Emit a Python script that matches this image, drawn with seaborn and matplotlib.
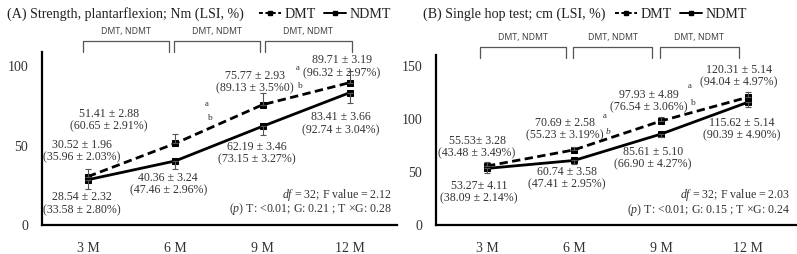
import matplotlib
matplotlib.use("Agg")
import matplotlib.pyplot as plt
from matplotlib.lines import Line2D
import matplotlib.transforms as mtransforms
import seaborn as sns
import pandas as pd
import numpy as np

# ---------------- data ----------------
timepoints = ["3 M", "6 M", "9 M", "12 M"]

a_dmt = [30.52, 51.41, 75.77, 89.71]
a_ndmt = [28.54, 40.36, 62.19, 83.41]
a_dmt_err = [5.0, 5.7, 7.5, 7.5]
a_ndmt_err = [6.0, 5.0, 5.7, 6.3]
a_dmt_labels = ["30.52 ± 1.96\n(35.96 ± 2.03%)", "51.41 ± 2.88\n(60.65 ± 2.91%)",
                "75.77 ± 2.93\n(89.13 ± 3.5%0)", "89.71 ± 3.19\n(96.32 ± 2.97%)"]
a_ndmt_labels = ["28.54 ± 2.32\n(33.58 ± 2.80%)", "40.36 ± 3.24\n(47.46 ± 2.96%)",
                 "62.19 ± 3.46\n(73.15 ± 3.27%)", "83.41 ± 3.66\n(92.74 ± 3.04%)"]
a_title = "(A) Strength, plantarflexion; Nm (LSI, %)"
a_stats = ["32", "2.12", "<0.01", "0.21", "0.28"]
a_yticks = [0, 50, 100]

b_dmt = [55.53, 70.69, 97.93, 120.31]
b_ndmt = [53.27, 60.74, 85.61, 115.62]
b_dmt_err = [3.3, 2.6, 4.0, 5.0]
b_ndmt_err = [4.0, 3.0, 3.0, 5.0]
b_dmt_labels = ["55.53± 3.28\n(43.48 ± 3.49%)", "70.69 ± 2.58\n(55.23 ± 3.19%)",
                "97.93 ± 4.89\n(76.54 ± 3.06%)", "120.31 ± 5.14\n(94.04 ± 4.97%)"]
b_ndmt_labels = ["53.27± 4.11\n(38.09 ± 2.14%)", "60.74 ± 3.58\n(47.41 ± 2.95%)",
                 "85.61 ± 5.10\n(66.90 ± 4.27%)", "115.62 ± 5.14\n(90.39 ± 4.90%)"]
b_title = "(B) Single hop test; cm (LSI, %)"
b_stats = ["32", "2.03", "<0.01", "0.15", "0.24"]
b_yticks = [0, 50, 100, 150]

groups = ["DMT", "NDMT"]
bracket_label = "DMT, NDMT"

# ---------------- style ----------------
sns.set_theme(style="white")
SERIF = ["Liberation Serif", "DejaVu Serif"]
plt.rcParams["font.family"] = SERIF
plt.rcParams["mathtext.fontset"] = "custom"
plt.rcParams["mathtext.it"] = "Liberation Serif:italic"
plt.rcParams["mathtext.rm"] = "Liberation Serif"

W, H = 797, 254
fig = plt.figure(figsize=(W / 100, H / 100), dpi=100)
TXT = "#333333"


def px_axes(x0, x1, ytop, ybot):
    return fig.add_axes([x0 / W, 1 - ybot / H, (x1 - x0) / W, (ybot - ytop) / H])


def draw_panel(ax, dmt, ndmt, dmt_err, ndmt_err, dmt_labels, ndmt_labels,
               ylim, xlim, yticks, lab_off_d, lab_off_n, sup_offs, bracket_y,
               brackets, stats):
    df = pd.DataFrame({
        "time": timepoints * 2,
        "value": list(dmt) + list(ndmt),
        "group": [groups[0]] * 4 + [groups[1]] * 4,
    })
    sns.lineplot(data=df, x="time", y="value", style="group",
                 dashes={"DMT": (3, 1.6), "NDMT": ""},
                 markers={"DMT": "s", "NDMT": "s"}, markersize=5,
                 color="black", linewidth=2.0, ax=ax, legend=False,
                 markeredgecolor="black")
    x = np.arange(len(timepoints))
    ax.errorbar(x, dmt, yerr=[np.zeros(4), dmt_err], fmt="none",
                ecolor="#555555", elinewidth=0.8, capsize=2.0, capthick=0.8)
    ax.errorbar(x, ndmt, yerr=[ndmt_err, np.zeros(4)], fmt="none",
                ecolor="#555555", elinewidth=0.8, capsize=2.0, capthick=0.8)
    ax.set_xlim(*xlim)
    ax.set_ylim(*ylim)
    ax.set_yticks(yticks)
    ax.set_xlabel("")
    ax.set_ylabel("")
    ax.tick_params(axis="y", length=0, labelsize=10, colors=TXT, pad=10)
    ax.tick_params(axis="x", length=0, labelsize=10, colors=TXT, pad=12)
    for lab in ax.get_xticklabels() + ax.get_yticklabels():
        lab.set_family(SERIF)
    for s in ["top", "right"]:
        ax.spines[s].set_visible(False)
    for s in ["left", "bottom"]:
        ax.spines[s].set_color("black")
        ax.spines[s].set_linewidth(1.6)
    ax.set_facecolor("none")

    tkw = dict(textcoords="offset pixels", ha="center", va="center",
               fontsize=8.6, color=TXT, linespacing=1.05, family=SERIF)
    for i in range(4):
        ax.annotate(dmt_labels[i], xy=(i, dmt[i]), xytext=lab_off_d[i], **tkw)
        ax.annotate(ndmt_labels[i], xy=(i, ndmt[i]), xytext=lab_off_n[i], **tkw)
    for (i, oa, ob, bstyle) in sup_offs:
        ax.annotate("a", xy=(i, dmt[i]), xytext=oa, textcoords="offset pixels",
                    ha="center", va="center", fontsize=6.3, color=TXT)
        ax.annotate("b", xy=(i, dmt[i]), xytext=ob, textcoords="offset pixels",
                    ha="center", va="center", fontsize=6.8, color=TXT,
                    style=bstyle)

    # brackets
    trans = mtransforms.blended_transform_factory(ax.transData, ax.transAxes)
    y_top, y_bot, y_lab = bracket_y
    for (xs, xe) in brackets:
        ax.plot([xs, xs, xe, xe], [y_bot, y_top, y_top, y_bot], color="#555555",
                lw=0.9, transform=trans, clip_on=False)
        ax.text((xs + xe) / 2, y_lab, bracket_label, transform=trans,
                ha="center", va="center", fontsize=6.3, color="#444444",
                family=["Noto Sans", "DejaVu Sans"])

    # stats
    ax.text(0.985, 0.175, r"$\it{df}$ = " + stats[0] + "; F value = " + stats[1],
            transform=ax.transAxes, ha="right", va="center", fontsize=8.6,
            color=TXT)
    ax.text(0.985, 0.09, r"($\it{p}$) T: " + stats[2] + "; G: " + stats[3]
            + " ; T ×G: " + stats[4],
            transform=ax.transAxes, ha="right", va="center", fontsize=8.6,
            color=TXT)


axA = px_axes(42, 397, 52, 225)
draw_panel(axA, a_dmt, a_ndmt, a_dmt_err, a_ndmt_err, a_dmt_labels, a_ndmt_labels,
           ylim=(0, 109), xlim=(-0.527, 3.54), yticks=a_yticks,
           lab_off_d=[(-6, 25), (-66, 23), (-8, 23), (-8, 16)],
           lab_off_n=[(-6, -24), (-7, -23), (-6, -27), (-9, -31)],
           sup_offs=[(1, (31, 39), (34, 25), "normal"),
                     (2, (35, 37), (37, 19), "normal")],
           bracket_y=(1.064, 1.0, 1.12),
           brackets=[(-0.06, 0.93), (0.99, 1.97), (2.03, 3.02)],
           stats=a_stats)

axB = px_axes(436, 796, 55, 225)
draw_panel(axB, b_dmt, b_ndmt, b_dmt_err, b_ndmt_err, b_dmt_labels, b_ndmt_labels,
           ylim=(0, 160), xlim=(-0.586, 3.55), yticks=b_yticks,
           lab_off_d=[(-10, 19), (-9, 21), (-12, 20), (-9, 21)],
           lab_off_n=[(-8, -24), (-7, -18), (-8, -24), (-6, -27)],
           sup_offs=[(1, (31, 34), (34, 18), "italic"),
                     (2, (29, 35), (31, 18), "normal")],
           bracket_y=(1.047, 0.982, 1.1),
           brackets=[(-0.08, 0.91), (0.99, 1.9), (1.99, 2.89)],
           stats=b_stats)


# titles + legends
def legend_handles():
    return [Line2D([], [], color="black", lw=1.4, dashes=(2.0, 1.3), marker="s",
                   markersize=3.2),
            Line2D([], [], color="black", lw=1.4, marker="s", markersize=3.2)]


for (title, x0, lx) in [(a_title, 7, 259), (b_title, 423, 615)]:
    fig.text(x0 / W, 1 - 14 / H, title, ha="left", va="center", fontsize=10.1,
             color="#222222")
    fig.legend(legend_handles(), groups, loc="center left",
               bbox_to_anchor=(lx / W, 1 - 14 / H), bbox_transform=fig.transFigure,
               ncol=2, frameon=False, handlelength=1.6, handletextpad=0.2,
               columnspacing=0.6, borderaxespad=0, borderpad=0,
               prop={"family": SERIF, "size": 10.1}, labelcolor="#222222")

fig.savefig("out.png", dpi=100)
